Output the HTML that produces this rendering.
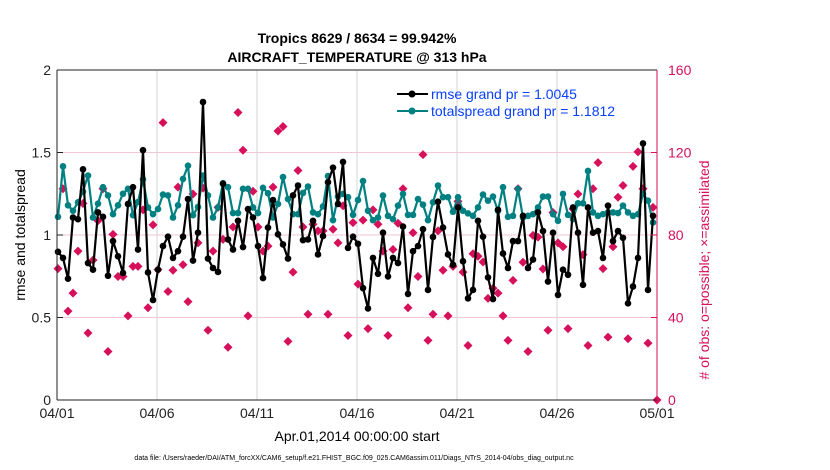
<!DOCTYPE html>
<html><head><meta charset="utf-8"><style>
body{margin:0;background:#fff;}
svg{display:block;font-family:"Liberation Sans",sans-serif;}
</style></head><body>
<svg id="chart" width="830" height="470" viewBox="0 0 830 470" xmlns="http://www.w3.org/2000/svg">
<rect width="830" height="470" fill="#fff"/>
<text x="357" y="43" text-anchor="middle" font-size="14" font-weight="bold">Tropics 8629 / 8634 = 99.942%</text>
<text x="357" y="62" text-anchor="middle" font-size="14" font-weight="bold">AIRCRAFT_TEMPERATURE @ 313 hPa</text>
<g id="grid"></g>
<g id="marks"></g>
<g id="axes"></g>
<text transform="translate(25,235) rotate(-90)" text-anchor="middle" font-size="14">rmse and totalspread</text>
<text fill="#d6105a" transform="translate(709,270) rotate(-90)" text-anchor="middle" font-size="14"># of obs: o=possible; ×=assimilated</text>
<text x="357" y="441" text-anchor="middle" font-size="14">Apr.01,2014 00:00:00 start</text>
<text x="354" y="460" text-anchor="middle" font-size="7">data file: /Users/raeder/DAI/ATM_forcXX/CAM6_setup/f.e21.FHIST_BGC.f09_025.CAM6assim.011/Diags_NTrS_2014-04/obs_diag_output.nc</text>
<g>
<line x1="397" y1="94" x2="428" y2="94" stroke="#000" stroke-width="2"/>
<circle cx="412" cy="94" r="3.5" fill="#000"/>
<text x="431" y="99" font-size="14" fill="#0a40ff">rmse grand pr = 1.0045</text>
<line x1="397" y1="111" x2="428" y2="111" stroke="#008080" stroke-width="2"/>
<circle cx="412" cy="111" r="3.5" fill="#008080"/>
<text x="431" y="116" font-size="14" fill="#0a40ff">totalspread grand pr = 1.1812</text>
</g>
</svg>
<script>
const rmse=[0.898,0.861,0.735,1.106,1.096,1.398,0.83,0.79,1.137,1.11,0.753,0.963,0.871,0.77,1.188,1.29,0.912,1.514,0.773,0.606,0.79,0.933,0.99,0.861,0.902,0.99,1.218,0.845,1.014,1.806,0.857,0.80,
0.776,1.31,0.973,0.912,1.086,0.927,1.157,1.106,0.933,0.739,1.045,1.212,1.004,0.943,0.857,1.24,1.3,0.969,0.973,1.086,0.882,0.994,1.32,1.408,1.188,1.443,0.922,0.99,0.947,0.678,
0.555,0.861,0.765,1.014,0.749,0.861,0.83,1.051,0.643,0.902,0.933,1.035,0.667,0.988,1.202,1.045,0.882,0.82,1.167,0.841,0.616,0.667,1.086,0.99,0.743,0.612,1.153,0.888,0.8,0.963,
0.963,1.116,0.8,0.851,1.137,1.024,0.718,1.014,0.637,0.79,0.759,1.167,1.014,0.698,1.167,1.014,1.024,0.861,1.178,0.963,1.024,0.983,0.586,0.688,0.861,1.555,0.667,1.116];
const spread=[1.11,1.416,1.18,1.147,1.198,1.263,1.36,1.106,1.19,1.29,1.24,1.126,1.18,1.25,1.28,1.12,1.2,1.337,1.167,1.126,1.157,1.245,1.24,1.106,1.18,1.34,1.42,1.12,1.17,1.36,1.24,1.106,
1.167,1.314,1.29,1.133,1.133,1.28,1.28,1.167,1.133,1.286,1.253,1.106,1.188,1.351,1.218,1.126,1.126,1.255,1.294,1.137,1.126,1.173,1.357,1.09,1.233,1.249,1.229,1.122,1.212,1.327,
1.147,1.09,1.106,1.239,1.116,1.096,1.178,1.249,1.122,1.122,1.218,1.184,1.09,1.198,1.3,1.229,1.229,1.141,1.229,1.147,1.131,1.116,1.167,1.245,1.208,1.233,1.147,1.29,1.11,1.116,
1.28,1.106,1.116,1.126,1.167,1.233,1.233,1.126,1.086,1.249,1.122,1.096,1.192,1.192,1.388,1.137,1.116,1.126,1.137,1.137,1.133,1.178,1.137,1.116,1.126,1.249,1.208,1.076];
const nobs=[63.7,102.4,43.1,51.8,72.2,95.3,32.5,67.8,86.9,102.4,23.5,80.3,59.9,59.9,40.8,64.8,64.8,92.2,44.7,84.9,63.2,134.5,52.6,62.9,103.2,65.6,47.7,99.9,76.2,102.7,33.8,72.2,
93.4,77.9,25.6,83.9,139.4,121.1,40.8,101.2,83.9,72.2,74.6,103.2,130.4,132.6,28.4,62.0,111.3,83.9,41.6,85.2,82.0,82.0,41.6,82.8,76.2,94.2,31.3,86.0,56.2,87.2,
34.6,92.2,85.2,72.2,31.3,73.0,85.7,102.4,44.7,81.1,59.9,119.0,28.9,41.6,82.0,62.9,40.8,64.8,96.3,62.0,26.4,70.9,69.7,66.9,49.3,54.2,51.8,40.8,28.9,58.0,
102.4,66.8,23.5,79.8,79.0,63.5,33.8,90.9,76.2,74.3,34.6,92.6,99.9,70.5,26.4,102.4,115.1,63.7,30.5,74.3,98.3,104.0,29.7,113.3,120.3,102.4,27.6,93.4];
const xTickLabels=["04/01","04/06","04/11","04/16","04/21","04/26","05/01"];
const xTickDays=[0,5,10,15,20,25,30];
const yTickVals=[0,0.5,1,1.5,2];
const yTickLabels=["0","0.5","1","1.5","2"];
const y2TickVals=[0,40,80,120,160];

const NS="http://www.w3.org/2000/svg";
const L=57,R=657,T=70,B=400;
const xDay=d=>L+(R-L)*d/30;
const xIdx=i=>xDay(0.05+i*0.25);
const yL=v=>B-(B-T)*v/2;
const yR=v=>B-(B-T)*v/160;
function mk(tag,attrs,parent){const e=document.createElementNS(NS,tag);for(const k in attrs)e.setAttribute(k,attrs[k]);parent.appendChild(e);return e;}
const grid=document.getElementById('grid'),marks=document.getElementById('marks'),axes=document.getElementById('axes');
yTickVals.forEach((v,i)=>{
  if(v>0&&v<2){const g=mk('line',{x1:L,x2:R,y1:yL(v),y2:yL(v),stroke:'#f3c6d6','stroke-width':1},grid);
  
  }
  const t=mk('text',{x:L-6,y:yL(v)+5,'text-anchor':'end','font-size':14,fill:'#222'},axes);t.textContent=yTickLabels[i];
  
  
  mk('line',{x1:L,x2:L+6,y1:yL(v),y2:yL(v),stroke:'#222'},axes);
});
xTickDays.forEach((d,i)=>{
  if(d>0&&d<30){const g=mk('line',{x1:xDay(d),x2:xDay(d),y1:T,y2:B,stroke:'#d6d6d6','stroke-width':1},grid);
  
  }
  const t=mk('text',{x:xDay(d),y:418,'text-anchor':'middle','font-size':14,fill:'#222'},axes);t.textContent=xTickLabels[i];
  
  
});
y2TickVals.forEach(v=>{
  const t=mk('text',{x:668,y:yR(v)+5,'font-size':14,fill:'#d6105a'},axes);t.textContent=String(v);
  
  
  mk('line',{x1:R-6,x2:R,y1:yR(v),y2:yR(v),stroke:'#d6105a'},axes);
});
mk('line',{x1:L,x2:R,y1:T,y2:T,stroke:'#222'},axes);
mk('line',{x1:L,x2:R,y1:B,y2:B,stroke:'#222'},axes);
mk('line',{x1:L,x2:L,y1:T,y2:B,stroke:'#222'},axes);
mk('line',{x1:R,x2:R,y1:T,y2:B,stroke:'#d6105a'},axes);

nobs.forEach((v,i)=>{
  const x=xIdx(i),y=yR(v),s=4.5;
  const p=mk('polygon',{points:`${x},${y-s} ${x+s},${y} ${x},${y+s} ${x-s},${y}`,fill:'#d6105a'},marks);
  
  
});
{const x=R,y=yR(0),s=4.5;const p=mk('polygon',{points:`${x},${y-s} ${x+s},${y} ${x},${y+s} ${x-s},${y}`,fill:'#d6105a'},marks);

}

function series(arr,color,name){
  const pl=mk('polyline',{points:arr.map((v,i)=>xIdx(i)+','+yL(v)).join(' '),fill:'none',stroke:color,'stroke-width':2.2,'stroke-linejoin':'round'},marks);
  
  
  arr.forEach((v,i)=>{const c=mk('circle',{cx:xIdx(i),cy:yL(v),r:3.3,fill:color},marks);
    
    });
}
series(spread,'#008080','totalspread');
series(rmse,'#000','rmse');
</script>
</body></html>
